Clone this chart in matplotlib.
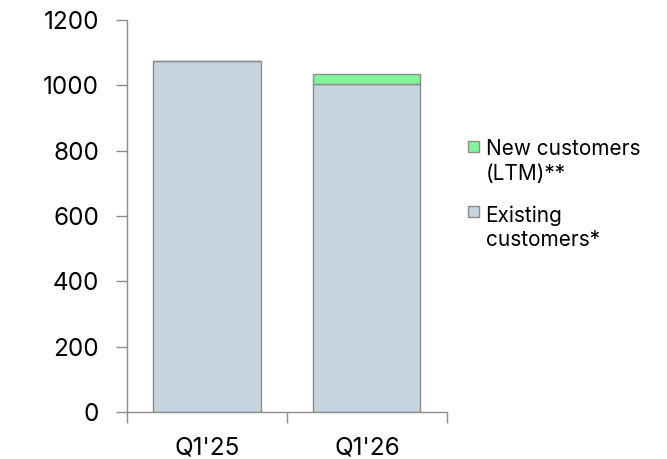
import numpy as np
import matplotlib.pyplot as plt
from matplotlib.patches import Rectangle

# Datos
periodos = ["Q1'25", "Q1'26"]
clientes_existentes = [1074, 1003]
clientes_nuevos = [0, 33]

etiqueta_nuevos = "New customers\n(LTM)**"
etiqueta_existentes = "Existing\ncustomers*"

color_existentes = '#c5d5e0'
color_nuevos = '#80f59a'
color_borde = '#8c8c8c'

plt.rcParams['font.family'] = ['Inter', 'DejaVu Sans']

fig = plt.figure(figsize=(6.67, 4.59), dpi=100)
ax = fig.add_axes([0.1904, 0.1024, 0.4796, 0.854])

x = np.arange(len(periodos))
ax.bar(x, clientes_existentes, width=0.67, color=color_existentes,
       edgecolor=color_borde, linewidth=1.0)
ax.bar(x, clientes_nuevos, width=0.67, bottom=clientes_existentes,
       color=color_nuevos, edgecolor=color_borde, linewidth=1.0)

ax.set_xlim(-0.5, len(periodos) - 0.5)
ax.set_ylim(0, 1200)
ax.set_yticks(np.arange(0, 1201, 200))

# etiquetas en el centro, marcas entre categorías
ax.set_xticks(x)
ax.set_xticklabels(periodos)
ax.set_xticks(np.arange(-0.5, len(periodos)), minor=True)
ax.tick_params(axis='x', which='major', length=0, pad=18, labelsize=17.5)
ax.tick_params(axis='x', which='minor', length=8, color=color_borde, width=1.0)
ax.tick_params(axis='y', length=8, color=color_borde, width=1.0, pad=12, labelsize=17.5)

for lado in ['top', 'right']:
    ax.spines[lado].set_visible(False)
for lado in ['left', 'bottom']:
    ax.spines[lado].set_color(color_borde)
    ax.spines[lado].set_linewidth(1.0)

# leyenda a mano: el cuadrado va alineado con la primera línea
def entrada_leyenda(y_cuadro, y_texto, color, texto):
    fig.patches.append(Rectangle((0.7016, y_cuadro), 0.0165, 0.024,
                                 transform=fig.transFigure, facecolor=color,
                                 edgecolor=color_borde, linewidth=1.0))
    fig.text(0.728, y_texto, texto, fontsize=15, va='top', ha='left',
             linespacing=1.3)

entrada_leyenda(0.6688, 0.697, color_nuevos, etiqueta_nuevos)
entrada_leyenda(0.5272, 0.553, color_existentes, etiqueta_existentes)

fig.savefig('out.png', dpi=100)
